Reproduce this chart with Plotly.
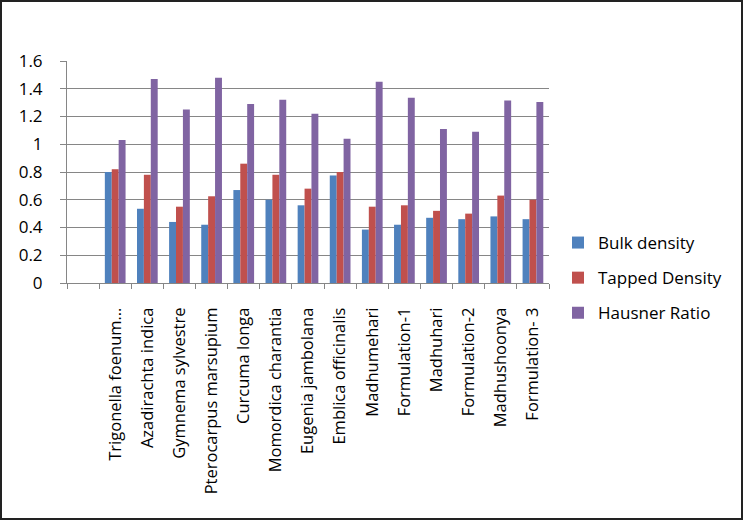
import plotly.graph_objects as go

categories = [" ", "Trigonella foenum…", "Azadirachta indica", "Gymnema sylvestre",
              "Pterocarpus marsupium", "Curcuma longa", "Momordica charantia",
              "Eugenia jambolana", "Emblica officinalis", "Madhumehari",
              "Formulation-1", "Madhuhari", "Formulation-2", "Madhushoonya",
              "Formulation- 3"]

bulk_density = [None, 0.80, 0.535, 0.44, 0.42, 0.67, 0.60, 0.56, 0.775, 0.385,
                0.42, 0.47, 0.46, 0.48, 0.46]
tapped_density = [None, 0.82, 0.78, 0.55, 0.625, 0.86, 0.78, 0.68, 0.80, 0.55,
                  0.56, 0.52, 0.50, 0.63, 0.60]
hausner_ratio = [None, 1.03, 1.47, 1.25, 1.48, 1.29, 1.32, 1.22, 1.04, 1.45,
                 1.335, 1.11, 1.09, 1.315, 1.305]

series_names = ["Bulk density", "Tapped Density", "Hausner Ratio"]
series_colors = ["#4F81BD", "#C0504D", "#8064A2"]
y_ticks = [0, 0.2, 0.4, 0.6, 0.8, 1, 1.2, 1.4, 1.6]

W, H = 743, 520
ML, MR, MT, MB = 67, 194, 61, 237
PW, PH = W - ML - MR, H - MT - MB

FONT = "Open Sans"

fig = go.Figure()
for name, vals, col in zip(series_names, [bulk_density, tapped_density, hausner_ratio], series_colors):
    fig.add_trace(go.Bar(x=categories, y=vals, name=name, marker=dict(color=col, line=dict(width=0)),
                         legendgroup=name))

fig.update_layout(
    width=W, height=H,
    margin=dict(l=ML, r=MR, t=MT, b=MB, pad=0),
    paper_bgcolor="white", plot_bgcolor="white",
    barmode="group", bargap=0.355, bargroupgap=0,
    font=dict(family=FONT, color="black"),
    showlegend=True,
    legend=dict(x=(558 - ML) / PW, xanchor="left", y=(MT + PH - 225) / PH, yanchor="top",
                font=dict(size=17, family=FONT, color="black"),
                traceorder="grouped", tracegroupgap=10, bgcolor="rgba(0,0,0,0)"),
    xaxis=dict(type="category", tickson="boundaries", ticks="outside", ticklen=5,
               tickcolor="#868686", showline=True, linecolor="#868686", linewidth=1,
               showgrid=False, tickangle=-90, tickfont=dict(size=16.5, family=FONT),
               ticklabelstandoff=17, automargin=False),
    yaxis=dict(range=[0, 1.6], tickvals=y_ticks, ticks="outside", ticklen=6,
               tickcolor="#868686", showline=True, linecolor="#868686", linewidth=1,
               showgrid=True, gridcolor="#868686", gridwidth=1, zeroline=False,
               tickfont=dict(size=17, family=FONT), ticklabelstandoff=14, automargin=False),
    shapes=[dict(type="rect", xref="paper", yref="paper",
                 x0=(1 - ML) / PW, x1=(W - 1 - ML) / PW,
                 y0=(MT + PH - (H - 1)) / PH, y1=(MT + PH - 1) / PH,
                 line=dict(color="#222222", width=2), fillcolor="rgba(0,0,0,0)", layer="above")],
)

fig.write_html("out.html", config={"displayModeBar": False},
               post_script="document.body.style.margin='0';document.body.style.overflow='hidden';")
